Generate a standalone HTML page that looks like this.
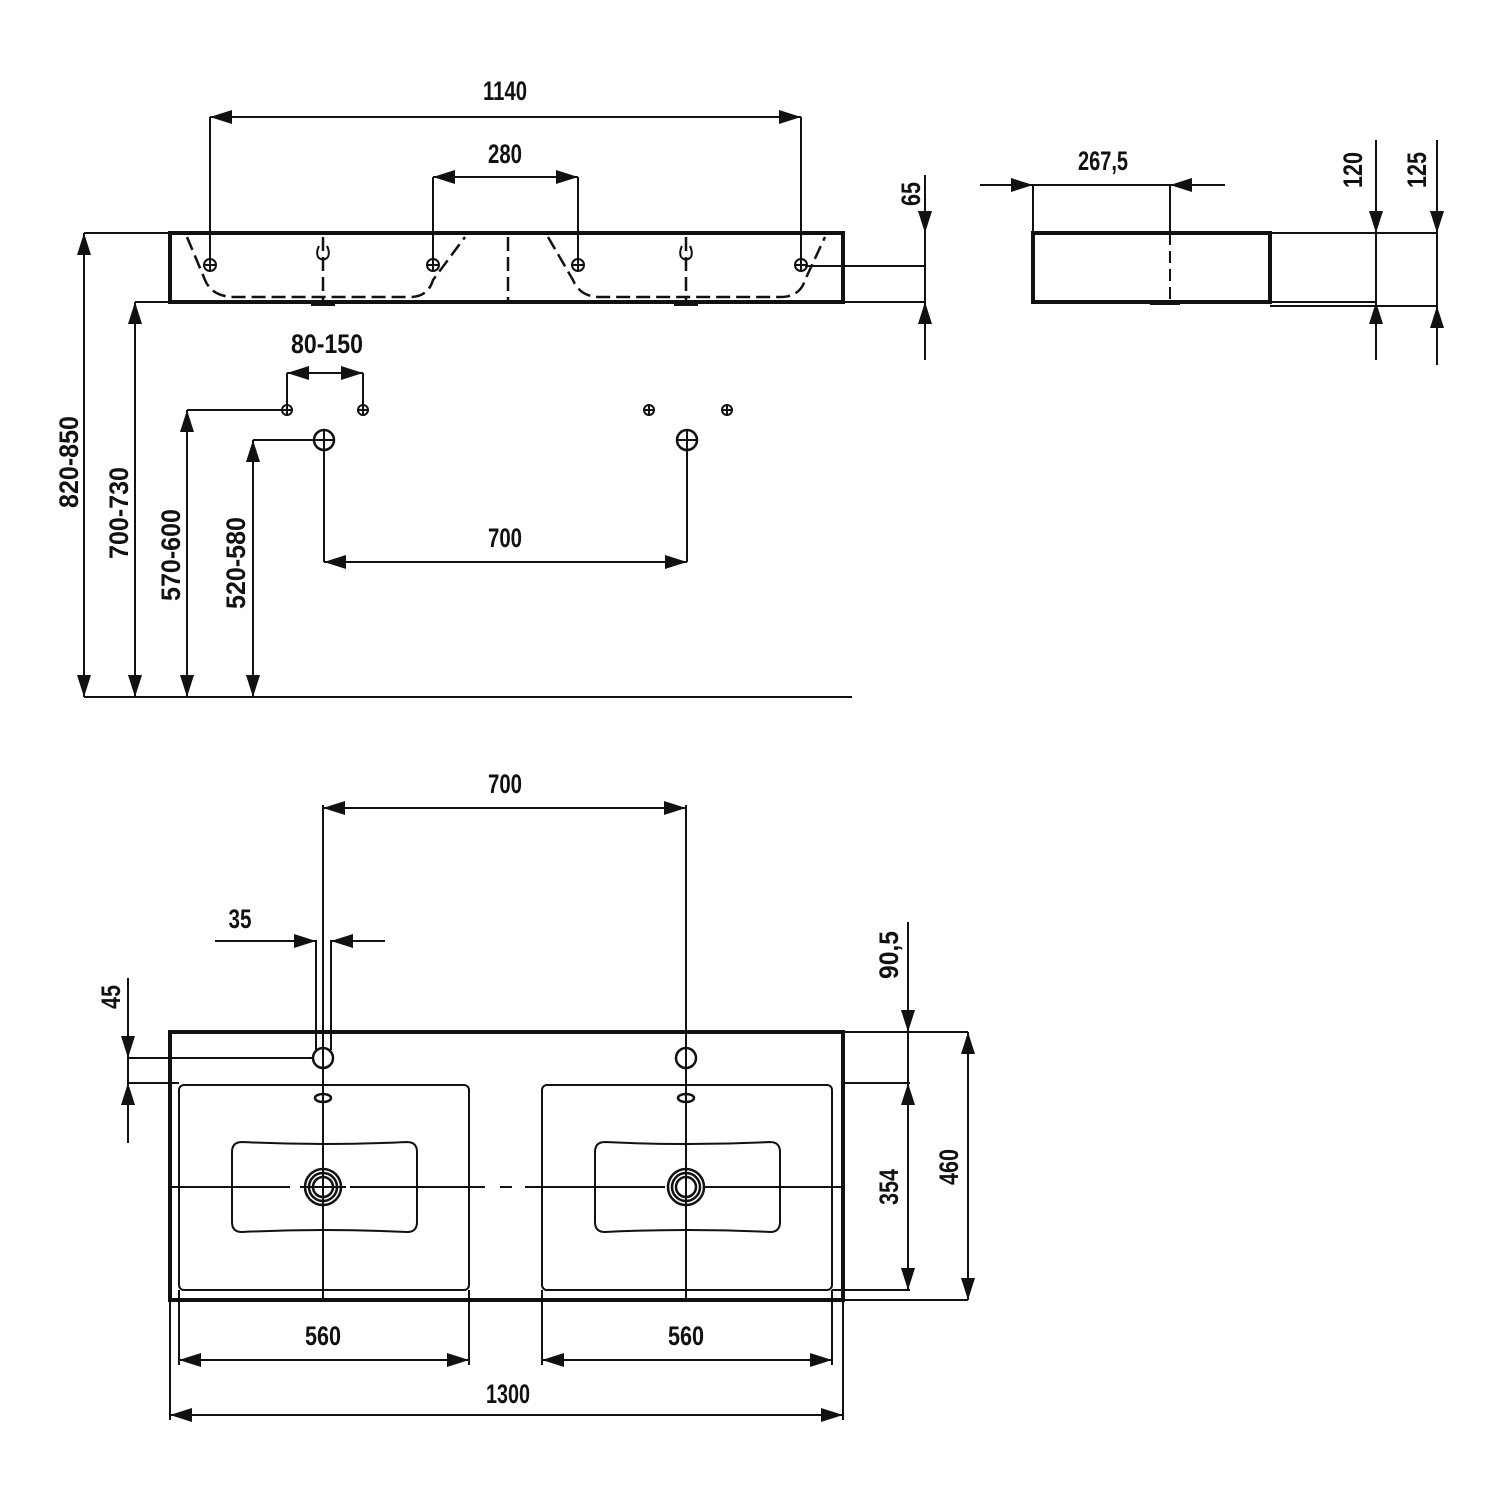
<!DOCTYPE html>
<html><head><meta charset="utf-8"><style>html,body{margin:0;background:#fff}svg{display:block}
text{font-family:"Liberation Sans",sans-serif;font-weight:bold;font-size:27px;fill:#111}</style></head><body>
<svg width="1500" height="1500" viewBox="0 0 1500 1500" xmlns="http://www.w3.org/2000/svg">
<defs><marker id="a" markerUnits="userSpaceOnUse" markerWidth="24" markerHeight="14" refX="22" refY="7" orient="auto-start-reverse"><path d="M0,0 L22,7 L0,14 z" fill="#111"/></marker></defs>
<g stroke="#111" stroke-width="2" fill="none">
<rect x="170" y="233" width="673" height="69" stroke-width="4"/>
<line x1="84" y1="233" x2="170" y2="233"/>
<line x1="135" y1="302" x2="170" y2="302"/><line x1="843" y1="302" x2="925" y2="302"/>
<line x1="805" y1="266" x2="925" y2="266"/>
<line x1="925" y1="175" x2="925" y2="233" marker-end="url(#a)"/><line x1="925" y1="360" x2="925" y2="302" marker-end="url(#a)"/>
<line x1="925" y1="233" x2="925" y2="302"/>
<line x1="210" y1="117" x2="801" y2="117" marker-start="url(#a)" marker-end="url(#a)"/>
<line x1="210" y1="117" x2="210" y2="270"/><line x1="801" y1="117" x2="801" y2="270"/>
<line x1="433" y1="177" x2="578" y2="177" marker-start="url(#a)" marker-end="url(#a)"/>
<line x1="433" y1="177" x2="433" y2="270"/><line x1="578" y1="177" x2="578" y2="270"/>
<g stroke-width="2.5" stroke-dasharray="14,6">
<path d="M187,237 L205,280 Q212,297 235,297 L410,297 Q428,297 433,280 L465,237"/>
<path d="M548,237 L573,280 Q580,297 600,297 L780,297 Q800,297 805,280 L825,237"/>
<line x1="508" y1="237" x2="508" y2="300"/>
<line x1="323" y1="237" x2="323" y2="300"/><line x1="686" y1="237" x2="686" y2="300"/>
</g>
<g stroke-width="2"><circle cx="210" cy="265" r="6"/><line x1="204" y1="265" x2="216" y2="265"/>
<circle cx="433" cy="265" r="6"/><line x1="427" y1="265" x2="439" y2="265"/>
<circle cx="578" cy="265" r="6"/><line x1="572" y1="265" x2="584" y2="265"/>
<circle cx="801" cy="265" r="6"/><line x1="795" y1="265" x2="807" y2="265"/>
<path d="M319,246 Q316,252 318,257 M327,246 Q330,252 328,257 M318,257 Q323,262 328,257"/>
<path d="M682,246 Q679,252 681,257 M690,246 Q693,252 691,257 M681,257 Q686,262 691,257"/></g>
<rect x="311" y="302" width="24" height="4" fill="#111" stroke="none"/><rect x="674" y="302" width="24" height="4" fill="#111" stroke="none"/>
<line x1="287" y1="373" x2="363" y2="373" marker-start="url(#a)" marker-end="url(#a)"/>
<line x1="287" y1="373" x2="287" y2="404"/><line x1="363" y1="373" x2="363" y2="404"/>
<g><circle cx="287" cy="410" r="5"/><line x1="281" y1="410" x2="293" y2="410"/><line x1="287" y1="404" x2="287" y2="416"/>
<circle cx="363" cy="410" r="5"/><line x1="357" y1="410" x2="369" y2="410"/><line x1="363" y1="404" x2="363" y2="416"/>
<circle cx="649" cy="410" r="5"/><line x1="643" y1="410" x2="655" y2="410"/><line x1="649" y1="404" x2="649" y2="416"/>
<circle cx="727" cy="410" r="5"/><line x1="721" y1="410" x2="733" y2="410"/><line x1="727" y1="404" x2="727" y2="416"/>
<circle cx="324" cy="440" r="10" stroke-width="2.5"/><line x1="314" y1="440" x2="334" y2="440"/>
<circle cx="687" cy="440" r="10" stroke-width="2.5"/><line x1="677" y1="440" x2="697" y2="440"/></g>
<line x1="187" y1="410" x2="281" y2="410"/><line x1="253" y1="440" x2="314" y2="440"/>
<line x1="324" y1="430" x2="324" y2="562"/><line x1="687" y1="430" x2="687" y2="562"/>
<line x1="324" y1="562" x2="687" y2="562" marker-start="url(#a)" marker-end="url(#a)"/>
<line x1="84" y1="697" x2="852" y2="697"/>
<line x1="84" y1="233" x2="84" y2="697" marker-start="url(#a)" marker-end="url(#a)"/>
<line x1="135" y1="302" x2="135" y2="697" marker-start="url(#a)" marker-end="url(#a)"/>
<line x1="187" y1="410" x2="187" y2="697" marker-start="url(#a)" marker-end="url(#a)"/>
<line x1="253" y1="440" x2="253" y2="697" marker-start="url(#a)" marker-end="url(#a)"/>
<rect x="1033" y="233" width="237" height="69" stroke-width="4"/>
<line x1="1170" y1="233" x2="1170" y2="302" stroke-dasharray="12,6"/>
<rect x="1150" y="302" width="30" height="3" fill="#111" stroke="none"/>
<line x1="1033" y1="185" x2="1033" y2="233"/><line x1="1170" y1="185" x2="1170" y2="233"/>
<line x1="980" y1="185" x2="1033" y2="185" marker-end="url(#a)"/><line x1="1225" y1="185" x2="1170" y2="185" marker-end="url(#a)"/>
<line x1="1033" y1="185" x2="1170" y2="185"/>
<line x1="1270" y1="233" x2="1437" y2="233"/><line x1="1270" y1="302" x2="1376" y2="302"/><line x1="1270" y1="306" x2="1437" y2="306"/>
<line x1="1376" y1="140" x2="1376" y2="233" marker-end="url(#a)"/><line x1="1376" y1="360" x2="1376" y2="302" marker-end="url(#a)"/>
<line x1="1376" y1="233" x2="1376" y2="302"/>
<line x1="1437" y1="140" x2="1437" y2="233" marker-end="url(#a)"/><line x1="1437" y1="365" x2="1437" y2="306" marker-end="url(#a)"/>
<line x1="1437" y1="233" x2="1437" y2="306"/>
<rect x="170" y="1032" width="673" height="268" stroke-width="4"/>
<rect x="179" y="1085" width="290" height="205" rx="5"/><rect x="542" y="1085" width="290" height="205" rx="5"/>
<path d="M242,1142 Q324,1146 407,1142 Q417,1142 417,1152 L417,1222 Q417,1232 407,1232 Q324,1228 242,1232 Q232,1232 232,1222 L232,1152 Q232,1142 242,1142Z"/>
<path d="M605,1142 Q687,1146 770,1142 Q780,1142 780,1152 L780,1222 Q780,1232 770,1232 Q687,1228 605,1232 Q595,1232 595,1222 L595,1152 Q595,1142 605,1142Z"/>
<g stroke-width="2.5"><circle cx="323" cy="1187" r="18"/><circle cx="323" cy="1187" r="14"/><circle cx="323" cy="1187" r="10"/>
<circle cx="686" cy="1187" r="18"/><circle cx="686" cy="1187" r="14"/><circle cx="686" cy="1187" r="10"/>
<circle cx="323" cy="1058" r="10"/><circle cx="686" cy="1058" r="10"/>
<ellipse cx="323" cy="1098" rx="8" ry="4"/><ellipse cx="686" cy="1098" rx="8" ry="4"/></g>
<line x1="170" y1="1187" x2="290" y2="1187"/><line x1="300" y1="1187" x2="346" y2="1187"/><line x1="350" y1="1187" x2="485" y2="1187"/>
<line x1="500" y1="1187" x2="512" y2="1187"/><line x1="525" y1="1187" x2="665" y2="1187"/><line x1="705" y1="1187" x2="843" y2="1187"/>
<line x1="323" y1="805" x2="323" y2="1300"/><line x1="686" y1="805" x2="686" y2="1300"/>
<line x1="323" y1="808" x2="686" y2="808" marker-start="url(#a)" marker-end="url(#a)"/>
<line x1="316" y1="940" x2="316" y2="1050"/><line x1="331" y1="940" x2="331" y2="1050"/>
<line x1="215" y1="941" x2="316" y2="941" marker-end="url(#a)"/><line x1="385" y1="941" x2="331" y2="941" marker-end="url(#a)"/>
<line x1="128" y1="1058" x2="313" y2="1058"/><line x1="128" y1="1083" x2="179" y2="1083"/>
<line x1="128" y1="978" x2="128" y2="1058" marker-end="url(#a)"/><line x1="128" y1="1143" x2="128" y2="1083" marker-end="url(#a)"/>
<line x1="128" y1="1058" x2="128" y2="1083"/>
<line x1="843" y1="1032" x2="968" y2="1032"/><line x1="843" y1="1083" x2="910" y2="1083"/>
<line x1="832" y1="1290" x2="910" y2="1290"/><line x1="843" y1="1300" x2="968" y2="1300"/>
<line x1="908" y1="922" x2="908" y2="1032" marker-end="url(#a)"/><line x1="908" y1="1032" x2="908" y2="1083"/>
<line x1="908" y1="1083" x2="908" y2="1290" marker-start="url(#a)" marker-end="url(#a)"/>
<line x1="968" y1="1032" x2="968" y2="1300" marker-start="url(#a)" marker-end="url(#a)"/>
<line x1="179" y1="1290" x2="179" y2="1365"/><line x1="469" y1="1290" x2="469" y2="1365"/>
<line x1="542" y1="1290" x2="542" y2="1365"/><line x1="832" y1="1290" x2="832" y2="1365"/>
<line x1="170" y1="1300" x2="170" y2="1420"/><line x1="843" y1="1300" x2="843" y2="1420"/>
<line x1="179" y1="1360" x2="469" y2="1360" marker-start="url(#a)" marker-end="url(#a)"/>
<line x1="542" y1="1360" x2="832" y2="1360" marker-start="url(#a)" marker-end="url(#a)"/>
<line x1="170" y1="1415" x2="843" y2="1415" marker-start="url(#a)" marker-end="url(#a)"/>
</g>
<g text-anchor="middle">
<text x="505" y="100" textLength="44" lengthAdjust="spacingAndGlyphs">1140</text>
<text x="505" y="163" textLength="34" lengthAdjust="spacingAndGlyphs">280</text>
<text x="1103" y="170" textLength="50" lengthAdjust="spacingAndGlyphs">267,5</text>
<text x="327" y="353" textLength="72" lengthAdjust="spacingAndGlyphs">80-150</text>
<text x="505" y="547" textLength="34" lengthAdjust="spacingAndGlyphs">700</text>
<text x="505" y="793" textLength="34" lengthAdjust="spacingAndGlyphs">700</text>
<text x="240" y="928" textLength="23" lengthAdjust="spacingAndGlyphs">35</text>
<text x="323" y="1345" textLength="36" lengthAdjust="spacingAndGlyphs">560</text>
<text x="686" y="1345" textLength="36" lengthAdjust="spacingAndGlyphs">560</text>
<text x="508" y="1403" textLength="44" lengthAdjust="spacingAndGlyphs">1300</text>
<text transform="translate(920,194) rotate(-90)" textLength="24" lengthAdjust="spacingAndGlyphs">65</text>
<text transform="translate(1362,170) rotate(-90)" textLength="36" lengthAdjust="spacingAndGlyphs">120</text>
<text transform="translate(1426,170) rotate(-90)" textLength="36" lengthAdjust="spacingAndGlyphs">125</text>
<text transform="translate(78,462) rotate(-90)" textLength="92" lengthAdjust="spacingAndGlyphs">820-850</text>
<text transform="translate(128,513) rotate(-90)" textLength="92" lengthAdjust="spacingAndGlyphs">700-730</text>
<text transform="translate(180,555) rotate(-90)" textLength="92" lengthAdjust="spacingAndGlyphs">570-600</text>
<text transform="translate(245,563) rotate(-90)" textLength="92" lengthAdjust="spacingAndGlyphs">520-580</text>
<text transform="translate(120,997) rotate(-90)" textLength="24" lengthAdjust="spacingAndGlyphs">45</text>
<text transform="translate(898,955) rotate(-90)" textLength="48" lengthAdjust="spacingAndGlyphs">90,5</text>
<text transform="translate(898,1187) rotate(-90)" textLength="36" lengthAdjust="spacingAndGlyphs">354</text>
<text transform="translate(958,1167) rotate(-90)" textLength="36" lengthAdjust="spacingAndGlyphs">460</text>
</g>
</svg>
</body></html>
